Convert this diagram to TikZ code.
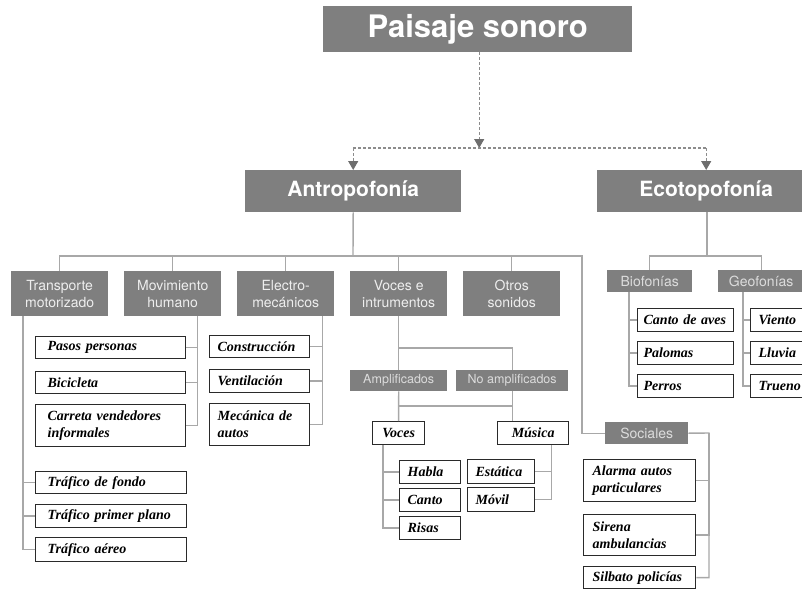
\documentclass[tikz,border=0pt]{standalone}
\usepackage{fontspec}
\setmainfont{Liberation Serif}
\newfontfamily\hv{TeX Gyre Heros}
\usetikzlibrary{arrows.meta}
\definecolor{boxgray}{HTML}{7F7F7F}
\definecolor{linec}{HTML}{A8A8A8}
\definecolor{leafc}{HTML}{2A2A2A}
\definecolor{subtxt}{HTML}{EEEEEE}
\definecolor{smalltxt}{HTML}{DCDCDC}
\definecolor{dashc}{HTML}{8C8C8C}
\definecolor{arrowc}{HTML}{6E6E6E}
\begin{document}
\begin{tikzpicture}[x=1pt,y=-1pt,
  gbox/.style={fill=boxgray, inner sep=0pt, anchor=north west, align=center},
  gtop/.style={gbox, text=white, font=\hv\bfseries\fontsize{31}{36}\selectfont},
  gcat/.style={gbox, text=white, font=\hv\bfseries\fontsize{21}{24}\selectfont},
  gsub/.style={gbox, text=subtxt, font=\hv\fontsize{14}{17}\selectfont},
  gsubb/.style={gbox, text=smalltxt, font=\hv\fontsize{14}{17}\selectfont},
  gsmall/.style={gbox, text=smalltxt, font=\hv\fontsize{12.5}{15}\selectfont},
  leaf/.style={draw=leafc, line width=1.3pt, fill=white, inner ysep=0pt, anchor=north west, align=left,
    font=\bfseries\itshape\fontsize{14}{17}\selectfont},
  leafc/.style={leaf, align=center, inner xsep=0pt},
  conn/.style={draw=linec, line width=1.4pt},
  dsh/.style={draw=dashc, line width=1.2pt, dash pattern=on 3pt off 2pt},
  tip/.style={-{Triangle[width=10pt,length=9pt,fill=arrowc,color=arrowc]}}
]
\useasboundingbox (0,0) rectangle (802,589);

% gray boxes
\node[gtop, minimum width=309, minimum height=46] (ps) at (323,6) {Paisaje sonoro};
\node[gcat, minimum width=216, minimum height=42] (anto) at (245,170) {Antropofonía};
\node[gcat, minimum width=218, minimum height=42] (eco) at (597,170) {Ecotopofonía};
\node[gsub, minimum width=97, minimum height=45] (trans) at (11,271) {Transporte\\motorizado};
\node[gsub, minimum width=97, minimum height=45] (mov) at (124,271) {Movimiento\\humano};
\node[gsub, minimum width=97, minimum height=45] (elec) at (237,271) {Electro-\\mecánicos};
\node[gsub, minimum width=97, minimum height=45] (voc) at (350,271) {Voces e\\intrumentos};
\node[gsub, minimum width=97, minimum height=45] (otros) at (463,271) {Otros\\sonidos};
\node[gsubb, minimum width=85, minimum height=22] (bio) at (607,270) {Biofonías};
\node[gsubb, minimum width=86, minimum height=22] (geo) at (718,270) {Geofonías};
\node[gsmall, minimum width=97, minimum height=21] (ampl) at (350,370) {Amplificados};
\node[gsmall, minimum width=112, minimum height=21] (nampl) at (456,370) {No amplificados};
\node[gsubb, minimum width=83, minimum height=22] (soc) at (605,422) {Sociales};

% leaves: transporte / movimiento
\node[leaf, inner xsep=12pt, text width=126pt, minimum height=22] (pasos) at (35,336) {Pasos personas};
\node[leaf, inner xsep=12pt, text width=126pt, minimum height=22] (bici) at (35,371) {Bicicleta};
\node[leaf, inner xsep=12pt, text width=126pt, minimum height=42] (carr) at (35,404) {Carreta vendedores\\informales};
\node[leaf, inner xsep=12pt, text width=127pt, minimum height=22] (tf) at (35,471) {Tráfico de fondo};
\node[leaf, inner xsep=12pt, text width=127pt, minimum height=23] (tp) at (35,504) {Tráfico primer plano};
\node[leaf, inner xsep=12pt, text width=127pt, minimum height=24] (ta) at (35,537) {Tráfico aéreo};
% electro
\node[leaf, inner xsep=8pt, text width=84pt, minimum height=22] (cons) at (209,335) {Construcción};
\node[leaf, inner xsep=8pt, text width=84pt, minimum height=23] (vent) at (209,369) {Ventilación};
\node[leaf, inner xsep=8pt, text width=84pt, minimum height=42] (mec) at (209,403) {Mecánica de\\autos};
% voces
\node[leafc, minimum width=52, minimum height=23] (vl) at (372,421) {Voces};
\node[leafc, minimum width=71, minimum height=23] (mus) at (497,421) {Música};
\node[leaf, inner xsep=8pt, text width=45pt, minimum height=23] (habla) at (399,460) {Habla};
\node[leaf, inner xsep=8pt, text width=45pt, minimum height=23] (canto) at (399,488) {Canto};
\node[leaf, inner xsep=8pt, text width=45pt, minimum height=23] (risas) at (399,516) {Risas};
\node[leaf, inner xsep=8pt, text width=51pt, minimum height=24] (est) at (467,459) {Estática};
\node[leaf, inner xsep=8pt, text width=51pt, minimum height=24] (movil) at (467,487) {Móvil};
% sociales
\node[leaf, inner xsep=9pt, text width=94pt, minimum height=42] (alarm) at (583,459) {Alarma autos\\particulares};
\node[leaf, inner xsep=9pt, text width=94pt, minimum height=41] (sir) at (583,514) {Sirena\\ambulancias};
\node[leaf, inner xsep=9pt, text width=94pt, minimum height=22] (silb) at (583,566) {Silbato policías};
% eco
\node[leaf, inner xsep=6pt, text width=84pt, minimum height=23] (cav) at (637,308) {Canto de aves};
\node[leaf, inner xsep=6pt, text width=84pt, minimum height=23] (pal) at (637,341) {Palomas};
\node[leaf, inner xsep=6pt, text width=84pt, minimum height=23] (per) at (637,374) {Perros};
\node[leaf, inner xsep=8pt, text width=46pt, minimum height=23] (vie) at (750,308) {Viento};
\node[leaf, inner xsep=8pt, text width=46pt, minimum height=23] (llu) at (750,341) {Lluvia};
\node[leaf, inner xsep=8pt, text width=46pt, minimum height=23] (tru) at (750,374) {Trueno};

% dashed top connectors
\coordinate (dj) at (479,148);
\draw[dsh, tip] ([xshift=1.5pt]ps.south) -- ([xshift=1.5pt]ps.south |- dj);
\draw[dsh] (anto.north |- dj) -- (eco.north |- dj);
\draw[dsh, tip] (anto.north |- dj) -- (anto.north);
\draw[dsh, tip] (eco.north |- dj) -- (eco.north);

% antropofonia bus
\coordinate (bA) at (353,256);
\coordinate (sR) at (582,256);
\draw[conn] (anto.south) -- (bA);
\draw[conn] (trans.north) -- (trans.north |- bA) -- (sR) -- (sR |- soc.west) -- (soc.west);
\draw[conn] (mov.north) -- (mov.north |- bA);
\draw[conn] (elec.north) -- (elec.north |- bA);
\draw[conn] (voc.north) -- (voc.north |- bA);
\draw[conn] (otros.north) -- (otros.north |- bA);

% transporte
\draw[conn] ([xshift=12pt]trans.south west) |- (tf.west);
\draw[conn] ([xshift=12pt]trans.south west) |- (tp.west);
\draw[conn] ([xshift=12pt]trans.south west) |- (ta.west);
% movimiento
\draw[conn] ([xshift=-24pt]mov.south east) |- (pasos.east);
\draw[conn] ([xshift=-24pt]mov.south east) |- (bici.east);
\draw[conn] ([xshift=-24pt]mov.south east) |- (carr.east);
% electro
\draw[conn] ([xshift=-12pt]elec.south east) |- (cons.east);
\draw[conn] ([xshift=-12pt]elec.south east) |- (vent.east);
\draw[conn] ([xshift=-12pt]elec.south east) |- (mec.east);
% voces e instrumentos
\coordinate (j1) at (399,348);
\draw[conn] (voc.south) -- (ampl.north);
\draw[conn] (voc.south |- j1) -| (nampl.north);
\coordinate (j2) at (399,406);
\draw[conn] (ampl.south) -- (vl.north);
\draw[conn] (ampl.south |- j2) -| (nampl.south);
\draw[conn] (nampl.south) -- (nampl.south |- mus.north);
\draw[conn] ([xshift=11pt]vl.south west) |- (habla.west);
\draw[conn] ([xshift=11pt]vl.south west) |- (canto.west);
\draw[conn] ([xshift=11pt]vl.south west) |- (risas.west);
\draw[conn] ([xshift=-18pt]mus.south east) |- (est.east);
\draw[conn] ([xshift=-18pt]mus.south east) |- (movil.east);
% sociales
\coordinate (sS) at (709,433);
\draw[conn] (soc.east) -- (sS) |- (silb.east);
\draw[conn] (sS) |- (alarm.east);
\draw[conn] (sS) |- (sir.east);

% ecotopofonia
\coordinate (bE) at (707,256);
\draw[conn] (bE |- eco.south) -- (bE);
\draw[conn] (bio.north) -- (bio.north |- bE) -- (geo.north |- bE) -- (geo.north);
\draw[conn] ([xshift=22pt]bio.south west) |- (cav.west);
\draw[conn] ([xshift=22pt]bio.south west) |- (pal.west);
\draw[conn] ([xshift=22pt]bio.south west) |- (per.west);
\draw[conn] ([xshift=25pt]geo.south west) |- (vie.west);
\draw[conn] ([xshift=25pt]geo.south west) |- (llu.west);
\draw[conn] ([xshift=25pt]geo.south west) |- (tru.west);
\end{tikzpicture}
\end{document}
